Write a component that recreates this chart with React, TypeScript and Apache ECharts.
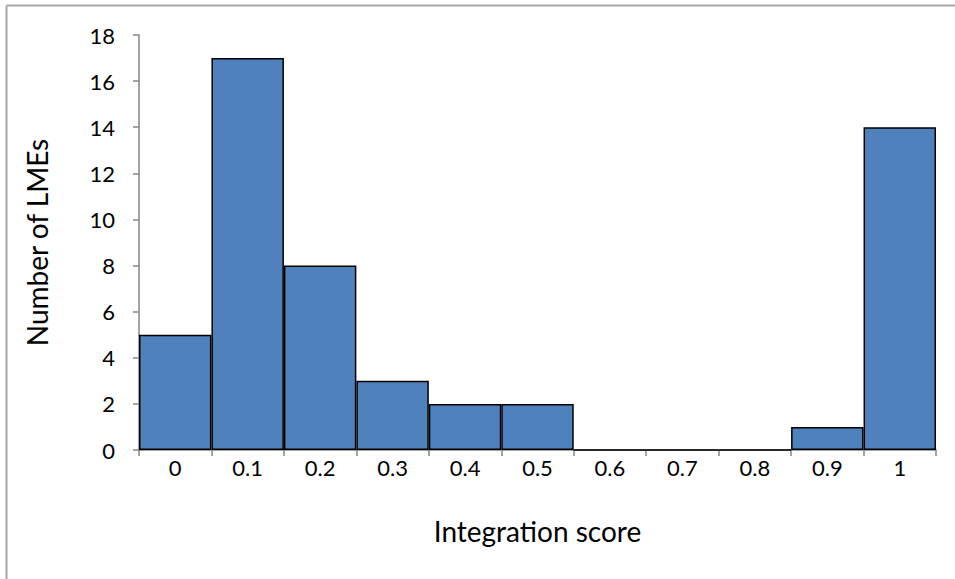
import React, { useEffect, useRef } from "react";
import * as echarts from "echarts";

const categories = ["0", "0.1", "0.2", "0.3", "0.4", "0.5", "0.6", "0.7", "0.8", "0.9", "1"];
const counts = [5, 17, 8, 3, 2, 2, 0, 0, 0, 1, 14];
const yTicks = { min: 0, max: 18, interval: 2 };

const FONT = "Lato, 'Open Sans', sans-serif";

export default function App() {
  const ref = useRef<HTMLDivElement>(null);

  useEffect(() => {
    document.body.style.margin = "0";
    if (!ref.current) return;
    const chart = echarts.init(ref.current, null, { renderer: "svg" });
    chart.setOption({
      animation: false,
      backgroundColor: "#ffffff",
      textStyle: { fontFamily: FONT },
      grid: { left: 139, right: 19, top: 35, bottom: 129, containLabel: false },
      xAxis: {
        type: "category",
        data: categories,
        boundaryGap: true,
        name: "Integration score",
        nameLocation: "middle",
        nameGap: 67,
        nameTextStyle: { fontSize: 28, color: "#000", fontFamily: FONT },
        axisLine: { lineStyle: { color: "#868686", width: 1.5 } },
        axisTick: { show: true, length: 6, alignWithLabel: false, lineStyle: { color: "#868686", width: 1.5 } },
        axisLabel: { fontSize: 22, color: "#000", margin: 6, fontFamily: FONT },
        splitLine: { show: false },
      },
      yAxis: {
        type: "value",
        min: yTicks.min,
        max: yTicks.max,
        interval: yTicks.interval,
        name: "Number of LMEs",
        nameLocation: "middle",
        nameGap: 88,
        nameRotate: 90,
        nameTextStyle: { fontSize: 28, color: "#000", fontFamily: FONT },
        axisLine: { show: true, lineStyle: { color: "#868686", width: 1.5 } },
        axisTick: { show: true, length: 6, lineStyle: { color: "#868686", width: 1.5 } },
        axisLabel: { fontSize: 22, color: "#000", margin: 24, fontFamily: FONT },
        splitLine: { show: false },
      },
      series: [
        {
          type: "bar",
          data: counts,
          barCategoryGap: "0%",
          itemStyle: { color: "#4F81BD", borderColor: "#000", borderWidth: 1.5 },
        },
      ],
      graphic: [
        { type: "line", shape: { x1: 6.5, y1: 5.5, x2: 955, y2: 5.5 }, style: { stroke: "#a6a6a6", lineWidth: 2 } },
        { type: "line", shape: { x1: 6.5, y1: 5.5, x2: 6.5, y2: 579 }, style: { stroke: "#a6a6a6", lineWidth: 2 } },
      ],
    });
    return () => chart.dispose();
  }, []);

  return <div ref={ref} style={{ width: 955, height: 579 }} />;
}
